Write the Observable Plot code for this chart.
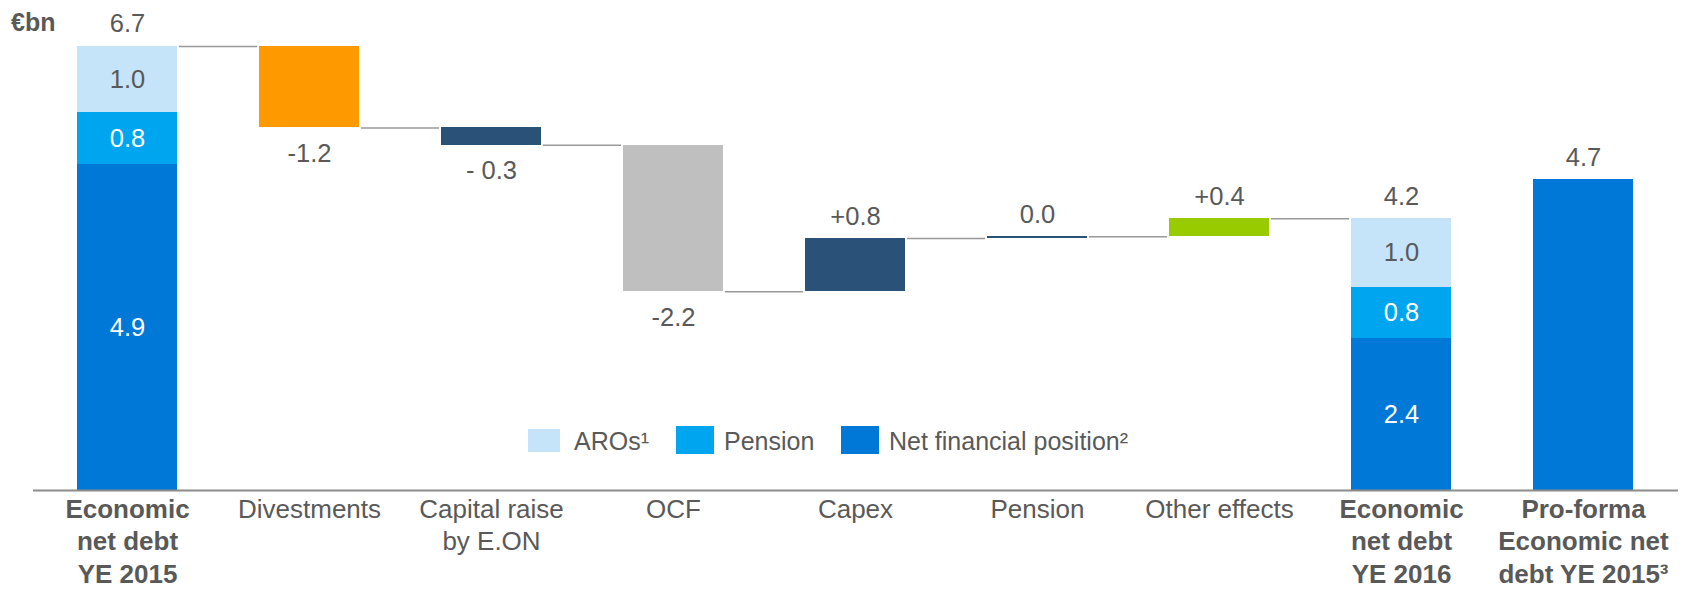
<!DOCTYPE html>
<html><head><meta charset="utf-8">
<script src="https://cdn.jsdelivr.net/npm/d3@7"></script>
<script src="https://cdn.jsdelivr.net/npm/@observablehq/plot@0.6"></script>
<style>
body{margin:0;background:#fff;font-family:"Liberation Sans",Arial,sans-serif;}
#wrap{position:relative;width:1694px;height:589px;overflow:hidden;}
.sq{position:absolute;}
.lt{position:absolute;font-size:25px;line-height:25px;color:#595959;white-space:nowrap;}
#unit{position:absolute;left:11px;top:10px;font-size:25px;line-height:25px;font-weight:bold;color:#595959;}
</style></head><body><div id="wrap"><div id="unit">€bn</div></div>
<script>
// ---- data ----
const categories = ["Economic\nnet debt\nYE 2015", "Divestments", "Capital raise\nby E.ON", "OCF", "Capex", "Pension", "Other effects", "Economic\nnet debt\nYE 2016", "Pro-forma\nEconomic net\ndebt YE 2015³"];
const boldCategories = ["Economic\nnet debt\nYE 2015", "Economic\nnet debt\nYE 2016", "Pro-forma\nEconomic net\ndebt YE 2015³"];
const components = ["AROs¹", "Pension", "Net financial position²"];
const ye2015Values = [1.0, 0.78, 4.92];
const ye2015Labels = ["1.0", "0.8", "4.9"];
const ye2015Total = "6.7";
const deltaCategories = ["Divestments", "Capital raise\nby E.ON", "OCF", "Capex", "Pension", "Other effects"];
const deltaValues = [-1.23, -0.26, -2.21, 0.80, 0.03, 0.27];
const deltaLabels = ["-1.2", "- 0.3", "-2.2", "+0.8", "0.0", "+0.4"];
const ye2016Values = [1.03, 0.78, 2.29];
const ye2016Labels = ["1.0", "0.8", "2.4"];
const ye2016Total = "4.2";
const proformaValue = 4.69;
const proformaLabel = "4.7";

// ---- styles ----
const componentColors = {"AROs¹": "#c5e3f9", "Pension": "#00a5ef", "Net financial position²": "#0078d7"};
const componentText = {"AROs¹": "#595959", "Pension": "#ffffff", "Net financial position²": "#ffffff"};
const deltaColors = {"Divestments": "#ff9900", "Capital raise\nby E.ON": "#2a5279", "OCF": "#bfbfbf", "Capex": "#2a5279", "Pension": "#2a5279", "Other effects": "#99cc00"};
const textGray = "#595959";
const font = "'Liberation Sans', Arial, sans-serif";

// ---- build tables ----
const W = 1694, H = 589, mL = 33, mR = 16, mT = 26, mB = 99;
const xOpts = {domain: categories, paddingInner: 0.448, paddingOuter: 0.224, align: 0.5};
const xs = Plot.scale({x: {type: "band", ...xOpts, range: [mL, W - mR]}});
const bw = xs.bandwidth;

const rects = [], inside = [], above = [], below = [], conns = [];
function stack(cat, vals, labels) {
  let base = 0;
  for (let i = vals.length - 1; i >= 0; --i) {
    const c = components[i];
    rects.push({cat, y1: base, y2: base + vals[i], fill: componentColors[c]});
    inside.push({cat, y: base + vals[i] / 2, text: labels[i], fill: componentText[c]});
    base += vals[i];
  }
  return base;
}
let level = stack(categories[0], ye2015Values, ye2015Labels);
above.push({cat: categories[0], y: level, text: ye2015Total});
let prev = categories[0];
deltaCategories.forEach((cat, i) => {
  const v = deltaValues[i];
  conns.push({from: prev, to: cat, y: level});
  rects.push({cat, y1: level, y2: level + v, fill: deltaColors[cat]});
  if (v < 0) below.push({cat, y: level + v, text: deltaLabels[i]});
  else above.push({cat, y: level + v, text: deltaLabels[i]});
  level += v;
  prev = cat;
});
conns.push({from: prev, to: categories[7], y: level});
const t16 = stack(categories[7], ye2016Values, ye2016Labels);
above.push({cat: categories[7], y: t16, text: ye2016Total});
rects.push({cat: categories[8], y1: 0, y2: proformaValue, fill: componentColors["Net financial position²"]});
above.push({cat: categories[8], y: proformaValue, text: proformaLabel});

const normalCats = categories.filter(c => !boldCategories.includes(c));

const chart = Plot.plot({
  width: W, height: H,
  marginLeft: mL, marginRight: mR, marginTop: mT, marginBottom: mB,
  style: {fontFamily: font, background: "transparent", overflow: "visible"},
  x: {...xOpts, axis: null},
  y: {domain: [0, 7], axis: null},
  color: {type: "identity"},
  marks: [
    Plot.ruleY(conns, {y: "y", x1: "from", x2: "to", insetLeft: bw + 1, insetRight: bw + 1, stroke: "#999999", strokeWidth: 1.5}),
    Plot.barY(rects, {x: "cat", y1: "y1", y2: "y2", fill: "fill", shapeRendering: "crispEdges"}),
    Plot.ruleY([0], {stroke: "#8c8c8c", strokeWidth: 2}),
    Plot.text(above, {x: "cat", y: "y", text: "text", lineAnchor: "bottom", dy: -14, fill: textGray, fontSize: 25.5}),
    Plot.text(below, {x: "cat", y: "y", text: "text", lineAnchor: "top", dy: 16, fill: textGray, fontSize: 25.5}),
    Plot.text(inside, {x: "cat", y: "y", text: "text", lineAnchor: "middle", fill: "fill", fontSize: 25.5}),
    Plot.text(normalCats, {x: d => d, frameAnchor: "bottom", text: d => d, lineAnchor: "top", dy: 4, lineHeight: 1.25, fill: textGray, fontSize: 26}),
    Plot.text(boldCategories, {x: d => d, frameAnchor: "bottom", text: d => d, lineAnchor: "top", dy: 4, lineHeight: 1.25, fill: textGray, fontSize: 26, fontWeight: "bold"})
  ]
});
const wrap = document.getElementById("wrap");
chart.style.position = "absolute"; chart.style.left = "0"; chart.style.top = "0";
wrap.insertBefore(chart, wrap.firstChild);

// ---- legend ----
const legendItems = [
  {name: components[0], sq: [528, 429, 32, 23], tx: 574},
  {name: components[1], sq: [676, 426, 38, 28], tx: 724},
  {name: components[2], sq: [841, 426, 38, 28], tx: 889}
];
legendItems.forEach(it => {
  const s = document.createElement("div");
  s.className = "sq";
  Object.assign(s.style, {left: it.sq[0] + "px", top: it.sq[1] + "px", width: it.sq[2] + "px", height: it.sq[3] + "px", background: componentColors[it.name]});
  wrap.appendChild(s);
  const t = document.createElement("div");
  t.className = "lt";
  Object.assign(t.style, {left: it.tx + "px", top: "429px"});
  t.textContent = it.name;
  wrap.appendChild(t);
});
</script>
</body></html>
